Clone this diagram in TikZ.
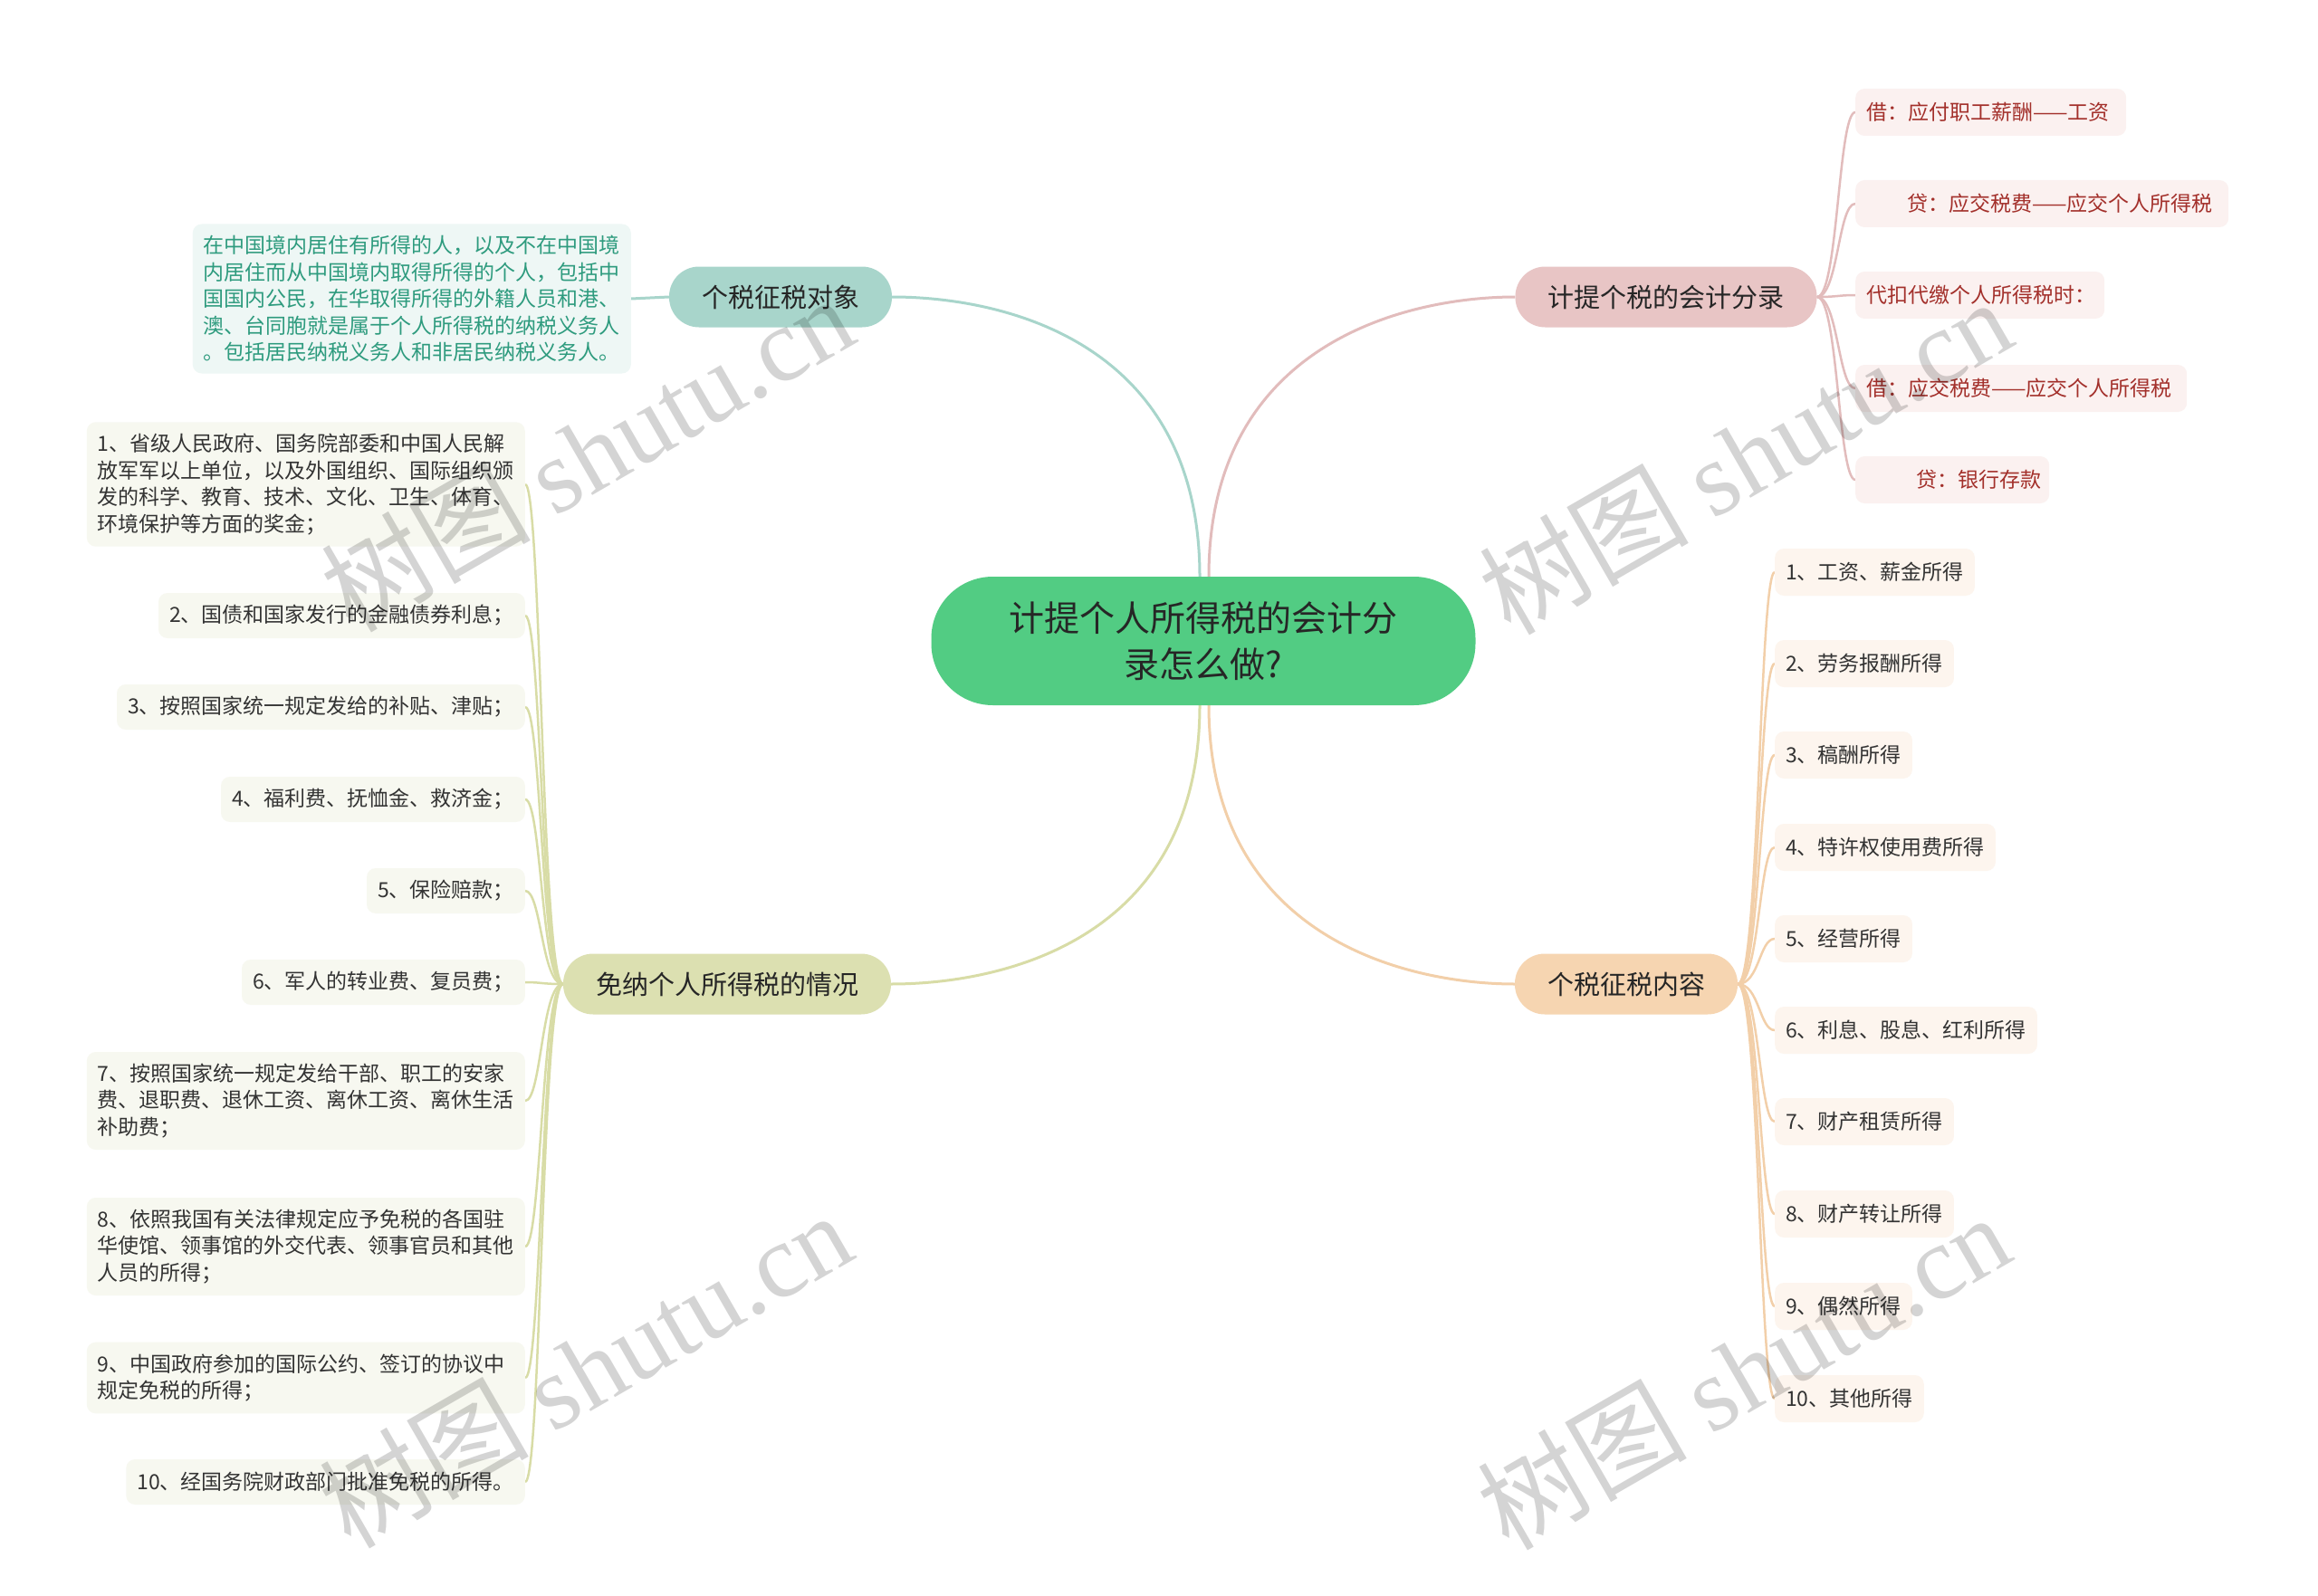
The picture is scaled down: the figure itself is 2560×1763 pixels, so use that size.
\documentclass[tikz,border=0pt]{standalone}
\usepackage{fontspec}
\setmainfont{Noto Sans CJK SC}
\newfontfamily\wmlatin{Liberation Serif}
\usetikzlibrary{backgrounds}
\definecolor{cgreen}{HTML}{52CC83}
\definecolor{teal1}{HTML}{A8D5CB}
\definecolor{teal2}{HTML}{EEF7F5}
\definecolor{tealtx}{HTML}{2E9B7E}
\definecolor{pink1}{HTML}{E8C5C5}
\definecolor{pinkln}{HTML}{E2BCBC}
\definecolor{pink2}{HTML}{FBF1F0}
\definecolor{pinktx}{HTML}{A3302B}
\definecolor{olive1}{HTML}{DCE0B1}
\definecolor{oliveln}{HTML}{D8DCA6}
\definecolor{olive2}{HTML}{F7F8F0}
\definecolor{peach1}{HTML}{F6D5B1}
\definecolor{peachln}{HTML}{F2CFA9}
\definecolor{peach2}{HTML}{FDF5EE}
\definecolor{txt}{HTML}{333333}
\begin{document}
\begin{tikzpicture}[x=1pt,y=-1pt,
  root/.style={fill=cgreen, rounded corners=68pt, minimum width=601pt, minimum height=142pt, inner sep=0pt, align=center, font=\fontsize{39}{51}\selectfont, text=black!85},
  branch/.style={rounded corners=33pt, minimum height=67pt, inner xsep=36pt, inner ysep=0pt, font=\fontsize{29}{35}\selectfont, text=black!85},
  leaf/.style={rounded corners=10pt, inner xsep=12pt, inner ysep=0pt, minimum height=52pt, font=\fontsize{23}{29.4}\selectfont, text=txt},
  multi/.style={inner ysep=13pt, align=left},
  link/.style={line width=3pt},
  wm/.style={rotate=30, text=black, text opacity=0.17, font=\fontsize{116}{116}\selectfont}
]
\useasboundingbox (0,0) rectangle (2560,1763);

% central and branch nodes
\node[root] (c) at (1329,708) {计提个人所得税的会计分\\录怎么做?};
\node[branch, fill=teal1] (bt) at (862,328) {个税征税对象};
\node[branch, fill=pink1] (bp) at (1840,328) {计提个税的会计分录};
\node[branch, fill=olive1] (bo) at (803,1087) {免纳个人所得税的情况};
\node[branch, fill=peach1] (bc) at (1796,1087) {个税征税内容};

% teal detail
\node[leaf, multi, fill=teal2, text=tealtx, anchor=east] (t1) at (697,330) {在中国境内居住有所得的人，以及不在中国境\\内居住而从中国境内取得所得的个人，包括中\\国国内公民，在华取得所得的外籍人员和港、\\澳、台同胞就是属于个人所得税的纳税义务人\\。包括居民纳税义务人和非居民纳税义务人。};

% pink leaves
\node[leaf, fill=pink2, text=pinktx, anchor=west, text width=275pt, align=left] (p1) at (2049,124) {借：应付职工薪酬——工资};
\node[leaf, fill=pink2, text=pinktx, anchor=west, text width=388pt, align=left] (p2) at (2049,225) {\hspace*{45pt}贷：应交税费——应交个人所得税};
\node[leaf, fill=pink2, text=pinktx, anchor=west, text width=251pt, align=left] (p3) at (2049,326) {代扣代缴个人所得税时：};
\node[leaf, fill=pink2, text=pinktx, anchor=west, text width=342pt, align=left] (p4) at (2049,429) {借：应交税费——应交个人所得税};
\node[leaf, fill=pink2, text=pinktx, anchor=west, text width=190pt, align=left] (p5) at (2049,530) {\hspace*{55pt}贷：银行存款};

% peach leaves
\node[leaf, fill=peach2, anchor=west] (r1) at (1960,632) {1、工资、薪金所得};
\node[leaf, fill=peach2, anchor=west] (r2) at (1960,733) {2、劳务报酬所得};
\node[leaf, fill=peach2, anchor=west] (r3) at (1960,834) {3、稿酬所得};
\node[leaf, fill=peach2, anchor=west] (r4) at (1960,936) {4、特许权使用费所得};
\node[leaf, fill=peach2, anchor=west] (r5) at (1960,1037) {5、经营所得};
\node[leaf, fill=peach2, anchor=west] (r6) at (1960,1138) {6、利息、股息、红利所得};
\node[leaf, fill=peach2, anchor=west] (r7) at (1960,1239) {7、财产租赁所得};
\node[leaf, fill=peach2, anchor=west] (r8) at (1960,1341) {8、财产转让所得};
\node[leaf, fill=peach2, anchor=west] (r9) at (1960,1443) {9、偶然所得};
\node[leaf, fill=peach2, anchor=west] (r10) at (1960,1545) {10、其他所得};

% olive leaves
\node[leaf, multi, fill=olive2, anchor=east, text width=460pt] (o1) at (580,535) {1、省级人民政府、国务院部委和中国人民解\\放军军以上单位，以及外国组织、国际组织颁\\发的科学、教育、技术、文化、卫生、体育、\\环境保护等方面的奖金；};
\node[leaf, fill=olive2, anchor=east, minimum height=50pt] (o2) at (580,680) {2、国债和国家发行的金融债券利息；};
\node[leaf, fill=olive2, anchor=east, minimum height=50pt] (o3) at (580,781) {3、按照国家统一规定发给的补贴、津贴；};
\node[leaf, fill=olive2, anchor=east, minimum height=50pt] (o4) at (580,883) {4、福利费、抚恤金、救济金；};
\node[leaf, fill=olive2, anchor=east, minimum height=50pt] (o5) at (580,984) {5、保险赔款；};
\node[leaf, fill=olive2, anchor=east, minimum height=50pt] (o6) at (580,1085) {6、军人的转业费、复员费；};
\node[leaf, multi, fill=olive2, anchor=east, text width=460pt] (o7) at (580,1216) {7、按照国家统一规定发给干部、职工的安家\\费、退职费、退休工资、离休工资、离休生活\\补助费；};
\node[leaf, multi, fill=olive2, anchor=east, text width=460pt] (o8) at (580,1377) {8、依照我国有关法律规定应予免税的各国驻\\华使馆、领事馆的外交代表、领事官员和其他\\人员的所得；};
\node[leaf, multi, fill=olive2, anchor=east, text width=460pt] (o9) at (580,1522) {9、中国政府参加的国际公约、签订的协议中\\规定免税的所得；};
\node[leaf, fill=olive2, anchor=east, minimum height=50pt] (o10) at (580,1637) {10、经国务院财政部门批准免税的所得。};

\begin{scope}[on background layer]
\fill[white] (0,0) rectangle (2560,1763);
% root to branches
\draw[link, teal1] ([xshift=-4pt]c.center) -- ([xshift=-4pt]c.north) .. controls ([xshift=-4pt]c.north |- 0,375) and (1105,328) .. (bt.east);
\draw[link, pinkln] ([xshift=6pt]c.center) -- ([xshift=6pt]c.north) .. controls ([xshift=6pt]c.north |- 0,375) and (1560,328) .. (bp.west);
\draw[link, oliveln] ([xshift=-4pt]c.center) -- ([xshift=-4pt]c.south) .. controls ([xshift=-4pt]c.south |- 0,1040) and (1105,1087) .. (bo.east);
\draw[link, peachln] ([xshift=6pt]c.center) -- ([xshift=6pt]c.south) .. controls ([xshift=6pt]c.south |- 0,1040) and (1560,1087) .. (bc.west);
% teal detail
\draw[link, teal1] (bt.west) -- (t1.east);
% pink leaves
\foreach \n in {p1,p2,p3,p4,p5}{
  \draw[link, pinkln, line width=2.5pt] (bp.east) .. controls (2030,328) and (2030,0 |- \n.west) .. (\n.west);
}
% peach leaves
\foreach \n in {r1,r2,r3,r4,r5,r6,r7,r8,r9,r10}{
  \draw[link, peachln, line width=2.5pt] (bc.east) .. controls (1943,1087) and (1943,0 |- \n.west) .. (\n.west);
}
% olive leaves
\foreach \n in {o1,o2,o3,o4,o5,o6,o7,o8,o9,o10}{
  \draw[link, oliveln, line width=2.5pt] (bo.west) .. controls (598,1087) and (598,0 |- \n.east) .. (\n.east);
}
\end{scope}

% watermarks
\node[wm] (w1) at (648,500) {树图 {\wmlatin shutu.cn}};
\node[wm] (w2) at (1927,503) {树图 {\wmlatin shutu.cn}};
\node[wm] (w3) at (646,1512) {树图 {\wmlatin shutu.cn}};
\node[wm] (w4) at (1925,1514) {树图 {\wmlatin shutu.cn}};
\end{tikzpicture}
\end{document}
